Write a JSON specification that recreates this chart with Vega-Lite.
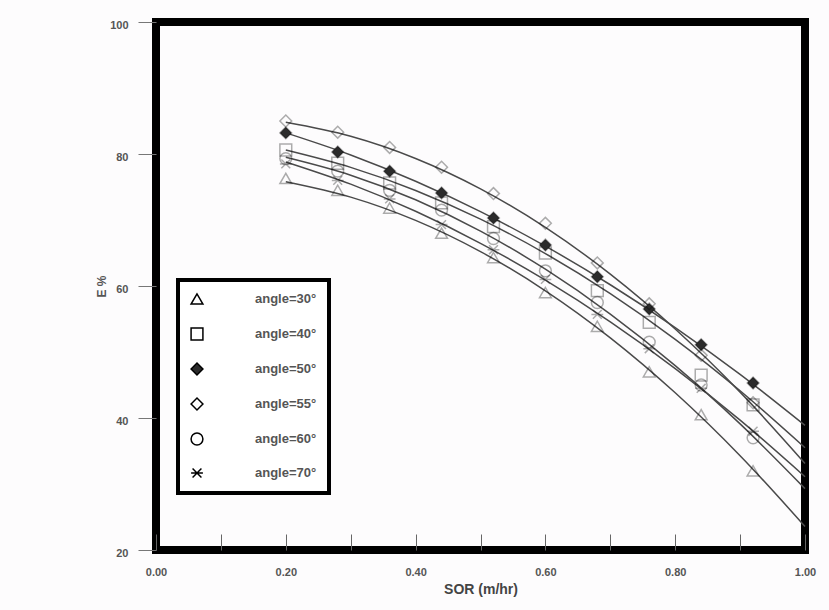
{
  "$schema": "https://vega.github.io/schema/vega-lite/v6.json",
  "width": 649,
  "height": 528,
  "autosize": "none",
  "padding": {"left": 156, "top": 22, "right": 24, "bottom": 60},
  "background": "#fdfcfd",
  "config": {
    "view": {"stroke": "black", "strokeWidth": 8},
    "font": "Liberation Sans",
    "legend": {"strokeColor": "black", "strokeWidth": 4, "fillColor": "white"}
  },
  "datasets": {
    "curves": [
      {"a": "angle=30°", "x": 0.2, "E": 75.8}, {"a": "angle=30°", "x": 0.3, "E": 73.47}, {"a": "angle=30°", "x": 0.4, "E": 69.94}, {"a": "angle=30°", "x": 0.5, "E": 65.21}, {"a": "angle=30°", "x": 0.6, "E": 59.28}, {"a": "angle=30°", "x": 0.7, "E": 52.15}, {"a": "angle=30°", "x": 0.8, "E": 43.82}, {"a": "angle=30°", "x": 0.9, "E": 34.29}, {"a": "angle=30°", "x": 1.0, "E": 23.56},
      {"a": "angle=40°", "x": 0.2, "E": 80.6}, {"a": "angle=40°", "x": 0.3, "E": 77.97}, {"a": "angle=40°", "x": 0.4, "E": 74.48}, {"a": "angle=40°", "x": 0.5, "E": 70.13}, {"a": "angle=40°", "x": 0.6, "E": 64.92}, {"a": "angle=40°", "x": 0.7, "E": 58.85}, {"a": "angle=40°", "x": 0.8, "E": 51.92}, {"a": "angle=40°", "x": 0.9, "E": 44.13}, {"a": "angle=40°", "x": 1.0, "E": 35.5},
      {"a": "angle=50°", "x": 0.2, "E": 83.2}, {"a": "angle=50°", "x": 0.3, "E": 79.85}, {"a": "angle=50°", "x": 0.4, "E": 75.87}, {"a": "angle=50°", "x": 0.5, "E": 71.27}, {"a": "angle=50°", "x": 0.6, "E": 66.04}, {"a": "angle=50°", "x": 0.7, "E": 60.19}, {"a": "angle=50°", "x": 0.8, "E": 53.71}, {"a": "angle=50°", "x": 0.9, "E": 46.61}, {"a": "angle=50°", "x": 1.0, "E": 38.88},
      {"a": "angle=55°", "x": 0.2, "E": 84.8}, {"a": "angle=55°", "x": 0.3, "E": 82.68}, {"a": "angle=55°", "x": 0.4, "E": 79.32}, {"a": "angle=55°", "x": 0.5, "E": 74.72}, {"a": "angle=55°", "x": 0.6, "E": 68.88}, {"a": "angle=55°", "x": 0.7, "E": 61.8}, {"a": "angle=55°", "x": 0.8, "E": 53.48}, {"a": "angle=55°", "x": 0.9, "E": 43.92}, {"a": "angle=55°", "x": 1.0, "E": 33.12},
      {"a": "angle=60°", "x": 0.2, "E": 79.5}, {"a": "angle=60°", "x": 0.3, "E": 76.79}, {"a": "angle=60°", "x": 0.4, "E": 73.06}, {"a": "angle=60°", "x": 0.5, "E": 68.31}, {"a": "angle=60°", "x": 0.6, "E": 62.54}, {"a": "angle=60°", "x": 0.7, "E": 55.75}, {"a": "angle=60°", "x": 0.8, "E": 47.94}, {"a": "angle=60°", "x": 0.9, "E": 39.11}, {"a": "angle=60°", "x": 1.0, "E": 29.3},
      {"a": "angle=70°", "x": 0.2, "E": 78.8}, {"a": "angle=70°", "x": 0.3, "E": 75.43}, {"a": "angle=70°", "x": 0.4, "E": 71.32}, {"a": "angle=70°", "x": 0.5, "E": 66.47}, {"a": "angle=70°", "x": 0.6, "E": 60.88}, {"a": "angle=70°", "x": 0.7, "E": 54.55}, {"a": "angle=70°", "x": 0.8, "E": 47.48}, {"a": "angle=70°", "x": 0.9, "E": 39.67}, {"a": "angle=70°", "x": 1.0, "E": 31.1}
    ],
    "pts": [
      {"a": "angle=30°", "x": 0.2, "E": 76.3}, {"a": "angle=30°", "x": 0.28, "E": 74.5}, {"a": "angle=30°", "x": 0.36, "E": 71.8}, {"a": "angle=30°", "x": 0.44, "E": 68.0}, {"a": "angle=30°", "x": 0.52, "E": 64.3}, {"a": "angle=30°", "x": 0.6, "E": 59.0}, {"a": "angle=30°", "x": 0.68, "E": 53.9}, {"a": "angle=30°", "x": 0.76, "E": 47.0}, {"a": "angle=30°", "x": 0.84, "E": 40.5}, {"a": "angle=30°", "x": 0.92, "E": 32.0},
      {"a": "angle=40°", "x": 0.2, "E": 80.6}, {"a": "angle=40°", "x": 0.28, "E": 78.6}, {"a": "angle=40°", "x": 0.36, "E": 75.6}, {"a": "angle=40°", "x": 0.44, "E": 72.6}, {"a": "angle=40°", "x": 0.52, "E": 69.0}, {"a": "angle=40°", "x": 0.6, "E": 65.0}, {"a": "angle=40°", "x": 0.68, "E": 59.3}, {"a": "angle=40°", "x": 0.76, "E": 54.5}, {"a": "angle=40°", "x": 0.84, "E": 46.5}, {"a": "angle=40°", "x": 0.92, "E": 42.0},
      {"a": "angle=50°", "x": 0.2, "E": 83.2}, {"a": "angle=50°", "x": 0.28, "E": 80.3}, {"a": "angle=50°", "x": 0.36, "E": 77.4}, {"a": "angle=50°", "x": 0.44, "E": 74.1}, {"a": "angle=50°", "x": 0.52, "E": 70.3}, {"a": "angle=50°", "x": 0.6, "E": 66.2}, {"a": "angle=50°", "x": 0.68, "E": 61.4}, {"a": "angle=50°", "x": 0.76, "E": 56.5}, {"a": "angle=50°", "x": 0.84, "E": 51.1}, {"a": "angle=50°", "x": 0.92, "E": 45.3},
      {"a": "angle=55°", "x": 0.2, "E": 85.0}, {"a": "angle=55°", "x": 0.28, "E": 83.3}, {"a": "angle=55°", "x": 0.36, "E": 81.0}, {"a": "angle=55°", "x": 0.44, "E": 78.0}, {"a": "angle=55°", "x": 0.52, "E": 74.0}, {"a": "angle=55°", "x": 0.6, "E": 69.5}, {"a": "angle=55°", "x": 0.68, "E": 63.5}, {"a": "angle=55°", "x": 0.76, "E": 57.3}, {"a": "angle=55°", "x": 0.84, "E": 49.5}, {"a": "angle=55°", "x": 0.92, "E": 42.3},
      {"a": "angle=60°", "x": 0.2, "E": 79.3}, {"a": "angle=60°", "x": 0.28, "E": 77.4}, {"a": "angle=60°", "x": 0.36, "E": 74.5}, {"a": "angle=60°", "x": 0.44, "E": 71.5}, {"a": "angle=60°", "x": 0.52, "E": 67.2}, {"a": "angle=60°", "x": 0.6, "E": 62.3}, {"a": "angle=60°", "x": 0.68, "E": 57.5}, {"a": "angle=60°", "x": 0.76, "E": 51.5}, {"a": "angle=60°", "x": 0.84, "E": 45.0}, {"a": "angle=60°", "x": 0.92, "E": 37.0},
      {"a": "angle=70°", "x": 0.2, "E": 78.5}, {"a": "angle=70°", "x": 0.28, "E": 76.0}, {"a": "angle=70°", "x": 0.36, "E": 73.2}, {"a": "angle=70°", "x": 0.44, "E": 69.3}, {"a": "angle=70°", "x": 0.52, "E": 65.5}, {"a": "angle=70°", "x": 0.6, "E": 61.0}, {"a": "angle=70°", "x": 0.68, "E": 55.7}, {"a": "angle=70°", "x": 0.76, "E": 50.5}, {"a": "angle=70°", "x": 0.84, "E": 44.5}, {"a": "angle=70°", "x": 0.92, "E": 38.0}
    ]
  },
  "encoding": {
    "x": {
      "field": "x", "type": "quantitative",
      "scale": {"domain": [0, 1], "nice": false, "zero": false},
      "axis": {
        "values": [0, 0.1, 0.2, 0.3, 0.4, 0.5, 0.6, 0.7, 0.8, 0.9, 1.0],
        "title": "SOR (m/hr)",
        "domain": false, "grid": false,
        "tickSize": -16, "tickColor": "#666", "tickWidth": 1,
        "labelExpr": "round(datum.value*10) % 2 == 0 ? format(datum.value, '.2f') : ''",
        "labelPadding": 32, "labelFont": "Liberation Sans", "labelFontSize": 11, "labelFontWeight": "bold", "labelColor": "#555",
        "labelFlush": false,
        "titleFont": "Liberation Sans", "titleFontSize": 14, "titleFontWeight": "bold", "titleColor": "#444", "titlePadding": 5,
        "encode": {"ticks": {"update": {"y2": {"signal": "round(datum.value*10) % 2 == 0 ? -16 : -7"}}}}
      }
    },
    "y": {
      "field": "E", "type": "quantitative",
      "scale": {"domain": [20, 100], "nice": false, "zero": false},
      "axis": {
        "values": [20, 40, 60, 80, 100],
        "title": "E %",
        "domain": false, "grid": false,
        "tickSize": 18, "tickColor": "#777", "tickWidth": 1,
        "labelPadding": 10, "labelFont": "Liberation Sans", "labelFontSize": 11, "labelFontWeight": "bold", "labelColor": "#555",
        "labelBaseline": "middle", "labelOffset": 3,
        "titleFont": "Liberation Sans", "titleFontSize": 12, "titleFontWeight": "bold", "titleColor": "#555", "titlePadding": 1
      }
    }
  },
  "layer": [
    {
      "data": {"name": "curves"},
      "mark": {"type": "line", "interpolate": "monotone", "color": "#4a4a4a", "strokeWidth": 1.5},
      "encoding": {"detail": {"field": "a"}}
    },
    {
      "data": {"name": "pts"},
      "mark": {"type": "point", "stroke": "black", "strokeWidth": 1.5, "opacity": 1},
      "encoding": {
        "shape": {
          "field": "a", "type": "nominal",
          "scale": {
            "domain": ["angle=30°", "angle=40°", "angle=50°", "angle=55°", "angle=60°", "angle=70°"],
            "range": ["triangle-up", "square", "diamond", "diamond", "circle", "M-1,0L1,0M-0.75,-0.75L0.75,0.75M-0.75,0.75L0.75,-0.75"]
          },
          "legend": {
            "title": null, "orient": "none", "legendX": 22, "legendY": 258,
            "padding": 12, "rowPadding": 17, "labelOffset": 51,
            "labelFont": "Liberation Sans", "labelFontSize": 13, "labelFontWeight": "bold", "labelColor": "#555",
            "strokeColor": "black", "fillColor": "white"
          }
        },
        "fill": {
          "field": "a", "type": "nominal",
          "scale": {
            "domain": ["angle=30°", "angle=40°", "angle=50°", "angle=55°", "angle=60°", "angle=70°"],
            "range": ["transparent", "transparent", "#2b2b2b", "transparent", "transparent", "transparent"]
          },
          "legend": {
            "title": null, "orient": "none", "legendX": 22, "legendY": 258,
            "padding": 12, "rowPadding": 17, "labelOffset": 51,
            "labelFont": "Liberation Sans", "labelFontSize": 13, "labelFontWeight": "bold", "labelColor": "#555",
            "strokeColor": "black", "fillColor": "white"
          }
        },
        "strokeOpacity": {
          "field": "a", "type": "nominal",
          "scale": {
            "domain": ["angle=30°", "angle=40°", "angle=50°", "angle=55°", "angle=60°", "angle=70°"],
            "range": [0.32, 0.32, 1, 0.32, 0.32, 0.32]
          },
          "legend": null
        },
        "size": {
          "field": "a", "type": "nominal",
          "scale": {
            "domain": ["angle=30°", "angle=40°", "angle=50°", "angle=55°", "angle=60°", "angle=70°"],
            "range": [140, 140, 200, 150, 150, 150]
          },
          "legend": {
            "title": null, "orient": "none", "legendX": 22, "legendY": 258,
            "padding": 12, "rowPadding": 17, "labelOffset": 51,
            "labelFont": "Liberation Sans", "labelFontSize": 13, "labelFontWeight": "bold", "labelColor": "#555",
            "strokeColor": "black", "fillColor": "white"
          }
        }
      }
    }
  ]
}
